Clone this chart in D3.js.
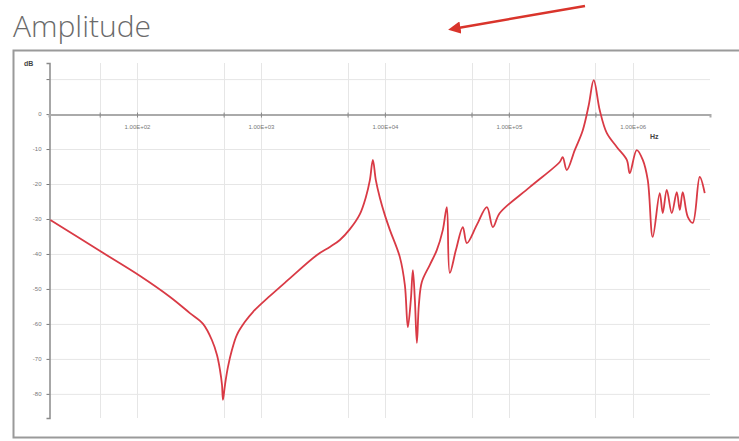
<!DOCTYPE html>
<meta charset="utf-8">
<style>
    body { margin: 0; background: #fff; }
    .title { font-family: "Open Sans", sans-serif; font-weight: 300; font-size: 30px; fill: #6a6a6a; }
    .grid line { stroke: #e6e6e6; stroke-width: 1; }
    .unit { font-family: Arial, "Liberation Sans", sans-serif; font-size: 7px; font-weight: bold; fill: #444; }
</style>
<svg width="739" height="441"></svg>
<script src="https://cdn.jsdelivr.net/npm/d3@7"></script>
<script>

    // frequency (Hz) and amplitude (dB)
    var freq = [20, 50, 106, 185, 267, 341, 402, 442, 467, 485, 494, 513, 542, 584, 640, 743, 861, 1183, 1622,
        2833, 3600, 4335, 5222, 6285, 7031, 7568, 8000, 8453, 9120, 10000, 10970, 13210, 14500, 15320, 16200,
        16820, 17460, 18120, 18800, 19870, 23060, 26240, 29370, 31620, 33420, 37410, 42560, 45840, 55210, 66520,
        74330, 84590, 147600, 257700, 272300, 293500, 340600, 395300, 441700, 484300, 541600, 616600, 743000,
        895300, 945900, 1077000, 1205000, 1322000, 1449000, 1651000, 1746000, 1881000, 2064000, 2265000,
        2395000, 2531000, 2779000, 3048000, 3470000, 3808000];
    var amp = [-30.3, -39.1, -46.3, -52.3, -56.9, -60, -64.6, -68.9, -73.1, -77.4, -81.7, -77.4, -72.3, -67.4,
        -63.1, -59.4, -56.6, -52, -47.7, -40.3, -38, -36, -32.9, -28.6, -23.7, -18.9, -13.1, -18.9, -24, -28.9,
        -33.1, -40.9, -48.9, -60.9, -53.1, -44.6, -53.1, -65.4, -54.6, -48, -43.1, -38.9, -33.1, -26.6, -45.4,
        -38.9, -32.3, -36.9, -31.7, -26.6, -32.3, -28.3, -20.9, -13.7, -12.3, -16, -10.3, -4.6, 2.6, 9.7, 1.1,
        -5.4, -9.4, -13.1, -16.9, -10.3, -13.1, -18.9, -35.1, -22.6, -28.3, -21.7, -28.3, -22.3, -27.4, -22.3,
        -29.4, -31.1, -18, -22.6];

    var xTicks = [1e2, 1e3, 1e4, 1e5, 1e6];
    var xTickLabels = ["1.00E+02", "1.00E+03", "1.00E+04", "1.00E+05", "1.00E+06"];
    var xGrid = [50, 100, 500, 1e3, 5e3, 1e4, 5e4, 1e5, 5e5, 1e6];
    var yTicks = [10, 0, -10, -20, -30, -40, -50, -60, -70, -80];
    var yTickLabels = ["", "0", "-10", "-20", "-30", "-40", "-50", "-60", "-70", "-80"];

    var svg = d3.select("svg");

    var x = d3.scaleLog().domain([19.5, 4.2e6]).range([49, 710]);
    var y = d3.scaleLinear().domain([-86.9, 14.6]).range([418, 63]);

    // page title and the annotation arrow
    svg.append("text").attr("class", "title").attr("x", 13).attr("y", 37).text("Amplitude");

    var defs = svg.append("defs");
    defs.append("marker")
        .attr("id", "head")
        .attr("viewBox", "0 0 10 10")
        .attr("refX", 2).attr("refY", 5)
        .attr("markerWidth", 5).attr("markerHeight", 5)
        .attr("orient", "auto")
        .append("path").attr("d", "M0,0L10,5L0,10z").attr("fill", "#d9342b");

    svg.append("line")
        .attr("x1", 585).attr("y1", 6).attr("x2", 458).attr("y2", 28)
        .attr("stroke", "#d9342b").attr("stroke-width", 2.5)
        .attr("marker-end", "url(#head)");

    // frame around the chart
    svg.append("rect")
        .attr("x", 13.5).attr("y", 50.5).attr("width", 740).attr("height", 387)
        .attr("fill", "none").attr("stroke", "#9a9a9a").attr("stroke-width", 2);

    // grid
    var grid = svg.append("g").attr("class", "grid");
    grid.selectAll(".h").data(yTicks).enter().append("line")
        .attr("x1", x.range()[0]).attr("x2", x.range()[1])
        .attr("y1", function(d) { return y(d) + 0.5; })
        .attr("y2", function(d) { return y(d) + 0.5; });
    grid.selectAll(".v").data(xGrid).enter().append("line")
        .attr("x1", function(d) { return Math.round(x(d)) + 0.5; })
        .attr("x2", function(d) { return Math.round(x(d)) + 0.5; })
        .attr("y1", y.range()[1]).attr("y2", y.range()[0]);

    // y axis
    var yAxis = d3.axisLeft(y).tickValues(yTicks).tickSize(3)
        .tickFormat(function(d, i) { return yTickLabels[i]; });
    var gy = svg.append("g").attr("transform", "translate(49.5,0)").call(yAxis);
    gy.select(".domain").attr("stroke", "#8a8a8a").attr("stroke-width", 1.5);
    gy.selectAll(".tick line").attr("stroke", "#777");
    gy.selectAll(".tick text").attr("x", -8)
        .style("font-family", "Arial, 'Liberation Sans', sans-serif").style("font-size", "6px").style("fill", "#777");

    svg.append("text").attr("class", "unit").attr("x", 24).attr("y", 66).text("dB");

    // x axis through 0 dB
    var xAxis = d3.axisBottom(x).tickValues(xGrid).tickSize(3)
        .tickFormat(function(d) { var i = xTicks.indexOf(d); return i < 0 ? "" : xTickLabels[i]; });
    var gx = svg.append("g").attr("transform", "translate(0," + (y(0) + 0.5) + ")").call(xAxis);
    gx.select(".domain").attr("stroke", "#aaa").attr("stroke-width", 2);
    gx.selectAll(".tick line").attr("stroke", "#888").attr("y1", -2);
    gx.selectAll(".tick text").attr("dy", "1.4em")
        .style("font-family", "Arial, 'Liberation Sans', sans-serif").style("font-size", "6px").style("fill", "#777");

    svg.append("text").attr("class", "unit").attr("x", 650).attr("y", 139).text("Hz");

    // amplitude curve
    var line = d3.line()
        .x(function(d, i) { return x(freq[i]); })
        .y(function(d) { return y(d); })
        .curve(d3.curveCatmullRom.alpha(0.5));

    svg.append("path")
        .datum(amp)
        .attr("d", line)
        .attr("fill", "none")
        .attr("stroke", "#d93a45")
        .attr("stroke-width", 1.8)
        .attr("stroke-linejoin", "round");

</script>
